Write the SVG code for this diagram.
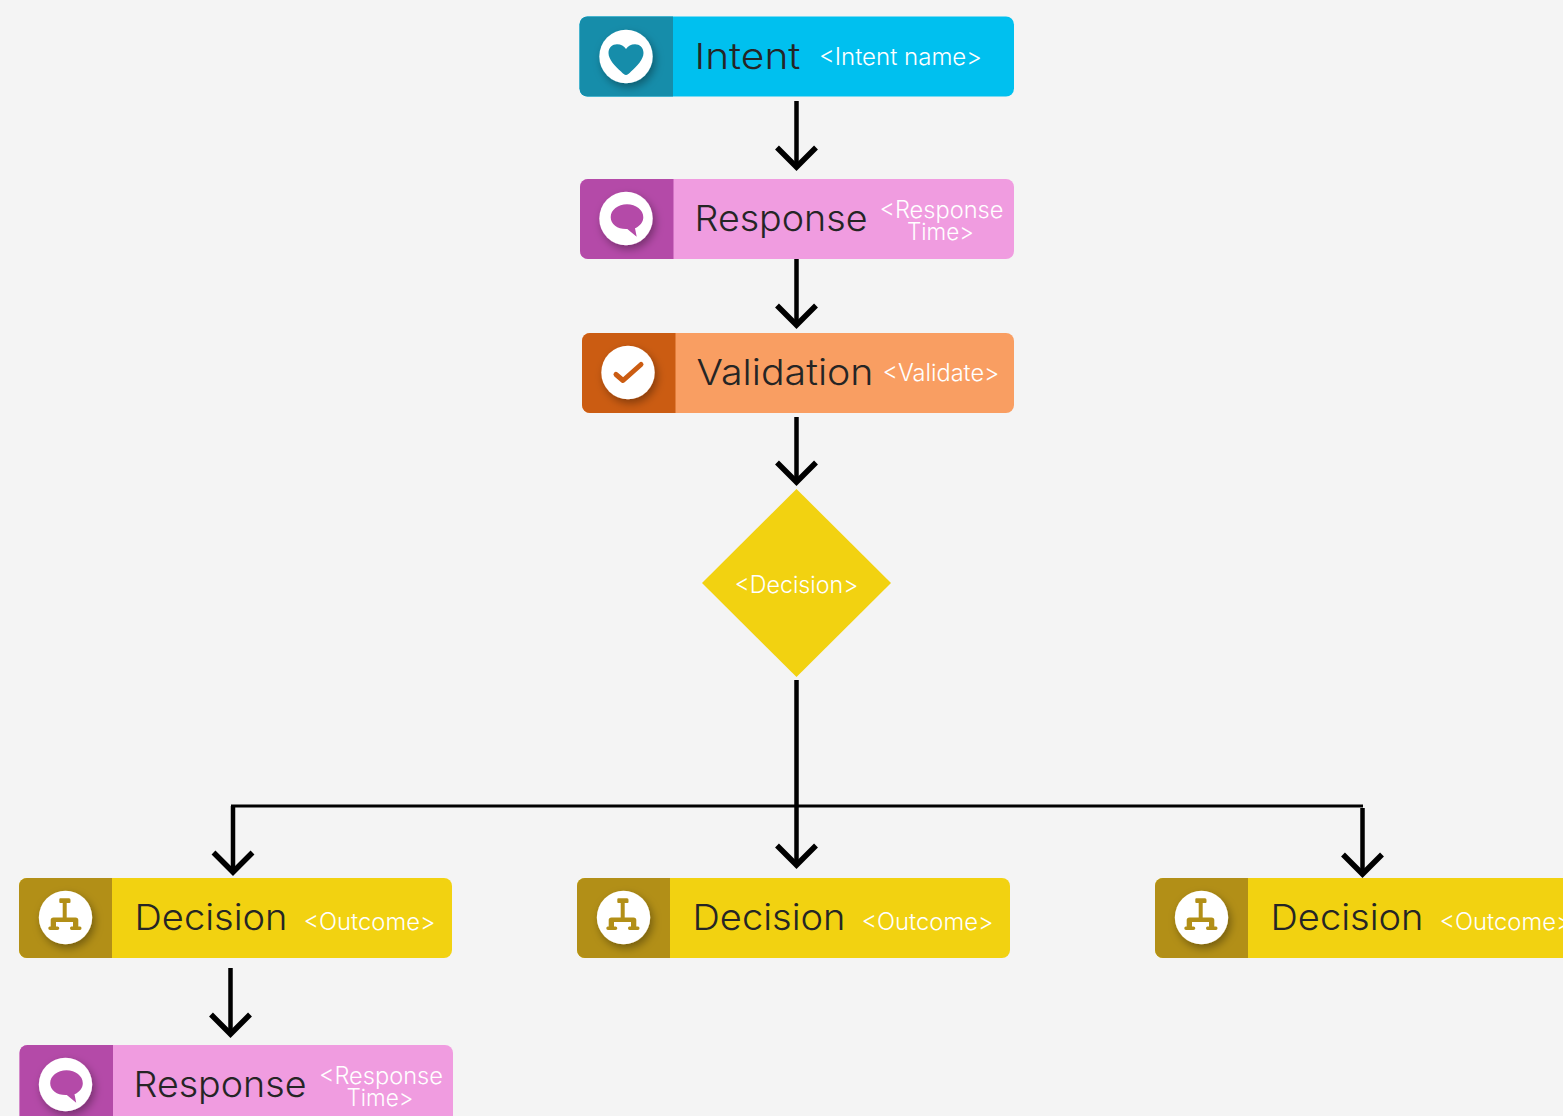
<svg xmlns="http://www.w3.org/2000/svg" width="1563" height="1116" viewBox="0 0 1563 1116">
<defs>
<style>
text{font-family:"Inter","Liberation Sans",sans-serif}
.t{font-size:36px;font-weight:300;fill:#252525;text-anchor:start}
.s{font-size:23.5px;font-weight:300;fill:#fff;text-anchor:middle}
.c{stroke:#000;stroke-width:4.5;fill:none}
.h{stroke:#000;stroke-width:5.5;fill:none}
</style>
<filter id="sh" x="-50%" y="-50%" width="200%" height="200%"><feDropShadow dx="2.5" dy="4" stdDeviation="4" flood-color="#000" flood-opacity="0.35"/></filter>
<path id="heart" d="M0 18.500C-1.500 18.500-3 17-5 15C-11 9.500-17.500 3-17.500-3.500C-17.500-9-13.500-12.200-9-12.200C-5-12.200-2-10.500 0-7.500C2-10.500 5-12.200 9-12.200C13.500-12.200 17.500-9 17.500-3.500C17.500 3 11 9.500 5 15C3 17 1.500 18.500 0 18.500Z"/>
<path id="bubble" d="M1-14.200C10-14.200 17.300-8.500 17.300-1.300C17.300 3.500 14 7.500 9 9.800L10.700 18.200L1.300 10.500C-8 11-15.300 6-15.300-1.300C-15.300-8.500-8-14.200 1-14.200Z"/>
<path id="check" d="M-12 2L-5 8L13-8" fill="none" stroke-width="5" stroke-linecap="round" stroke-linejoin="round"/>
<path id="tree" d="M-4.700-19.200H4C5-19.200 5.500-18.500 5.500-17V-15.500Q5.500-14.500 4.500-14.500H1.700V0H10.500Q13.300 0 13.300 2.500V9H15Q16.500 9 16.500 10.700T15 12.500H6.500Q5 12.500 5 10.700T6.500 9H8V4.500H-9V9H-7.500Q-5.700 9-5.700 10.700T-7.500 12.500H-15Q-16.700 12.500-16.700 10.700T-15 9H-14.300V2.500Q-14.300 0-11.500 0H-2.300V-14.500H-4.700Q-5.700-14.500-5.700-15.500V-18Q-5.700-19.200-4.700-19.200Z"/>
</defs>
<rect width="1563" height="1116" fill="#f4f4f4"/>
<g id="connectors">
<path class="c" d="M796.500 101V167"/><path class="h" d="M777 147.500L796.500 167L816 147.500"/>
<path class="c" d="M796.500 259V325"/><path class="h" d="M777 305.500L796.500 325L816 305.500"/>
<path class="c" d="M796.500 417V482"/><path class="h" d="M777 462.500L796.500 482L816 462.500"/>
<path class="c" d="M796.500 680V865"/><path class="h" d="M777 845.500L796.500 865L816 845.500"/>
<path d="M231 806H1363" stroke="#000" stroke-width="3" fill="none"/>
<path class="c" d="M233 806V872"/><path class="h" d="M213.500 852.500L233 872L252.500 852.500"/>
<path class="c" d="M1362.500 808V874"/><path class="h" d="M1343 854.500L1362.500 874L1382 854.500"/>
<path class="c" d="M230.500 968V1034"/><path class="h" d="M211 1014.500L230.500 1034L250 1014.500"/>
</g>
<g id="node-intent">
<rect x="579.500" y="16.500" width="434.500" height="80" rx="8" fill="#00c0ef"/>
<path d="M673 16.500H587.500a8 8 0 0 0-8 8V88.500a8 8 0 0 0 8 8H673Z" fill="#168daa"/>
<circle cx="626" cy="56.500" r="26.700" fill="#fff" filter="url(#sh)"/>
<use href="#heart" x="626" y="56.500" fill="#168daa"/>
<text class="t" x="694.500" y="69" textLength="106" lengthAdjust="spacingAndGlyphs">Intent</text>
<text class="s" x="900.500" y="65" textLength="163" lengthAdjust="spacingAndGlyphs">&lt;Intent name&gt;</text>
</g>
<g id="node-response-1">
<rect x="580" y="179" width="434" height="80" rx="8" fill="#f09ce0"/>
<path d="M673.500 179H588a8 8 0 0 0-8 8V251a8 8 0 0 0 8 8H673.500Z" fill="#b44aa8"/>
<circle cx="626" cy="218.500" r="26.700" fill="#fff" filter="url(#sh)"/>
<use href="#bubble" x="626" y="218.500" fill="#b44aa8"/>
<text class="t" x="694.500" y="231" textLength="173" lengthAdjust="spacingAndGlyphs">Response</text>
<text class="s" x="941.500" y="218" textLength="124" lengthAdjust="spacingAndGlyphs">&lt;Response</text>
<text class="s" x="940.500" y="240" textLength="67" lengthAdjust="spacingAndGlyphs">Time&gt;</text>
</g>
<g id="node-validation">
<rect x="582" y="333" width="432" height="80" rx="8" fill="#f99e62"/>
<path d="M675.500 333H590a8 8 0 0 0-8 8V405a8 8 0 0 0 8 8H675.500Z" fill="#cb5c12"/>
<circle cx="628" cy="372.500" r="26.700" fill="#fff" filter="url(#sh)"/>
<use href="#check" x="628" y="372.500" stroke="#cb5c12"/>
<text class="t" x="696.500" y="385" textLength="177" lengthAdjust="spacingAndGlyphs">Validation</text>
<text class="s" x="941" y="381" textLength="117" lengthAdjust="spacingAndGlyphs">&lt;Validate&gt;</text>
</g>
<g id="node-decision-diamond">
<path d="M796.500 489L891 583L796.500 677L702 583Z" fill="#f2d211"/>
<text class="s" x="796.500" y="593" textLength="124" lengthAdjust="spacingAndGlyphs">&lt;Decision&gt;</text>
</g>
<g id="node-decision-left">
<rect x="19" y="878" width="433" height="80" rx="8" fill="#f2d211"/>
<path d="M112 878H27a8 8 0 0 0-8 8V950a8 8 0 0 0 8 8H112Z" fill="#b28f17"/>
<circle cx="65.500" cy="917.500" r="26.700" fill="#fff" filter="url(#sh)"/>
<use href="#tree" x="65" y="917.500" fill="#b28f17"/>
<text class="t" x="134.500" y="930" textLength="153" lengthAdjust="spacingAndGlyphs">Decision</text>
<text class="s" x="369.500" y="930" textLength="132" lengthAdjust="spacingAndGlyphs">&lt;Outcome&gt;</text>
</g>
<g id="node-decision-middle">
<rect x="577" y="878" width="433" height="80" rx="8" fill="#f2d211"/>
<path d="M670 878H585a8 8 0 0 0-8 8V950a8 8 0 0 0 8 8H670Z" fill="#b28f17"/>
<circle cx="623.500" cy="917.500" r="26.700" fill="#fff" filter="url(#sh)"/>
<use href="#tree" x="623" y="917.500" fill="#b28f17"/>
<text class="t" x="692.500" y="930" textLength="153" lengthAdjust="spacingAndGlyphs">Decision</text>
<text class="s" x="927.500" y="930" textLength="132" lengthAdjust="spacingAndGlyphs">&lt;Outcome&gt;</text>
</g>
<g id="node-decision-right">
<rect x="1155" y="878" width="433" height="80" rx="8" fill="#f2d211"/>
<path d="M1248 878H1163a8 8 0 0 0-8 8V950a8 8 0 0 0 8 8H1248Z" fill="#b28f17"/>
<circle cx="1201.500" cy="917.500" r="26.700" fill="#fff" filter="url(#sh)"/>
<use href="#tree" x="1201" y="917.500" fill="#b28f17"/>
<text class="t" x="1270.500" y="930" textLength="153" lengthAdjust="spacingAndGlyphs">Decision</text>
<text class="s" x="1505.500" y="930" textLength="132" lengthAdjust="spacingAndGlyphs">&lt;Outcome&gt;</text>
</g>
<g id="node-response-2">
<rect x="19.500" y="1045" width="433.500" height="80" rx="8" fill="#f09ce0"/>
<path d="M113 1045H27.500a8 8 0 0 0-8 8V1117a8 8 0 0 0 8 8H113Z" fill="#b44aa8"/>
<circle cx="65.500" cy="1084.500" r="26.700" fill="#fff" filter="url(#sh)"/>
<use href="#bubble" x="65.500" y="1084.500" fill="#b44aa8"/>
<text class="t" x="133.500" y="1097" textLength="173" lengthAdjust="spacingAndGlyphs">Response</text>
<text class="s" x="381" y="1084" textLength="124" lengthAdjust="spacingAndGlyphs">&lt;Response</text>
<text class="s" x="380" y="1106" textLength="67" lengthAdjust="spacingAndGlyphs">Time&gt;</text>
</g>
</svg>
